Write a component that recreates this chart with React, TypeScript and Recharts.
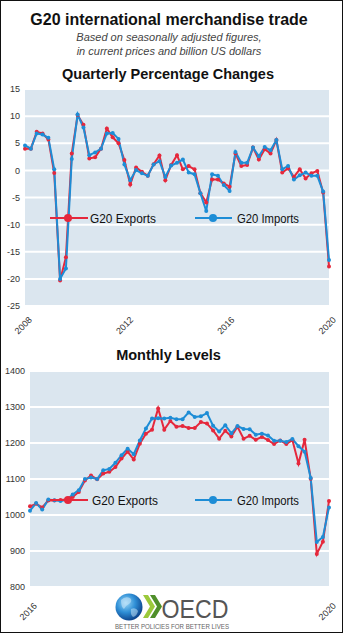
import React from 'react';
import { LineChart, Line, XAxis, YAxis, CartesianGrid, Legend } from 'recharts';

// ---------- Data ----------
const quarterCategories: string[] = (() => {
  const out: string[] = [];
  let y = 2007, q = 2;
  for (let k = 0; k < 53; k++) {
    out.push(`${y}Q${q}`);
    q++; if (q > 4) { q = 1; y++; }
  }
  return out;
})();

const quarterlyExports = [
  4.0, 4.0, 7.1, 6.8, 5.7, -0.5, -20.3, -16.0, 3.1, 10.2,
  8.4, 2.2, 2.4, 4.0, 7.7, 6.1, 5.0, 1.9, -2.6, 0.55,
  -0.25, -1.0, 1.15, 2.75, -1.8, 1.0, 2.8, 0.2, 0.8, 0.2,
  -4.2, -5.9, -1.7, -1.7, -2.4, -3.0, 3.1, 0.8, 1.0, 4.2,
  2.0, 3.9, 3.1, 5.6, -0.4, 0.35, -1.2, 0.2, -1.5, -0.55,
  -0.1, -4.1, -17.7,
];
const quarterlyImports = [
  4.6, 4.0, 6.8, 6.6, 6.0, 0.2, -20.0, -18.1, 2.1, 10.3,
  7.9, 2.8, 3.3, 4.0, 6.8, 6.9, 5.8, 1.1, -1.8, 0.05,
  -0.55, -1.0, 1.1, 1.7, -1.2, 0.9, 1.4, 2.0, -0.4, -0.7,
  -4.2, -7.5, -0.7, -1.0, -2.7, -3.8, 3.4, 1.4, 1.4, 4.2,
  2.6, 4.3, 3.7, 5.6, 0.2, 0.8, -1.7, -0.9, -0.4, -1.0,
  -1.0, -3.9, -16.5,
];
const quarterlyTickLabels = ['2008', '2012', '2016', '2020'];
const quarterlyYTicks = [-25, -20, -15, -10, -5, 0, 5, 10, 15];

const monthCategories: string[] = (() => {
  const out: string[] = [];
  let y = 2016, m = 5;
  for (let k = 0; k < 50; k++) {
    out.push(`${y}-${String(m).padStart(2, '0')}`);
    m++; if (m > 12) { m = 1; y++; }
  }
  return out;
})();

const monthlyExports = [
  1024, 1031, 1021, 1040, 1040, 1042, 1043, 1050, 1064, 1096,
  1110, 1099, 1115, 1120, 1133, 1157, 1176, 1154, 1198, 1226,
  1237, 1296, 1237, 1261, 1245, 1247, 1242, 1242, 1258, 1254,
  1235, 1212, 1234, 1218, 1245, 1212, 1220, 1209, 1217, 1208,
  1197, 1207, 1197, 1208, 1143, 1209, 1101, 892, 926, 1039,
];
const monthlyImports = [
  1012, 1033, 1015, 1043, 1041, 1039, 1042, 1057, 1069, 1100,
  1104, 1100, 1124, 1128, 1145, 1166, 1184, 1169, 1207, 1240,
  1268, 1269, 1268, 1270, 1266, 1266, 1285, 1272, 1274, 1283,
  1248, 1232, 1249, 1227, 1247, 1239, 1238, 1223, 1226, 1221,
  1206, 1206, 1203, 1211, 1191, 1176, 1103, 925, 939, 1021,
];
const monthlyTickLabels = ['2016', '2020'];
const monthlyYTicks = [800, 900, 1000, 1100, 1200, 1300, 1400];

// ---------- Styling ----------
const RED = '#e5283c';
const BLUE = '#1d8dd6';
const PLOT_BG = '#dbe6ef';
const FONT = "'Liberation Sans', Arial, Helvetica, sans-serif";

const quarterlyData = quarterCategories.map((c, i) => ({
  i, cat: c, exports: quarterlyExports[i], imports: quarterlyImports[i],
}));
const monthlyData = monthCategories.map((c, i) => ({
  i, cat: c, exports: monthlyExports[i], imports: monthlyImports[i],
}));

const evenTicks = (n: number, labels: string[]) =>
  labels.map((_, k) => (k * (n - 1)) / (labels.length - 1));

const makeAngledTick = (ticks: number[], labels: string[]) => (props: any) => {
  const { x, y, payload } = props;
  let idx = 0;
  let best = Infinity;
  ticks.forEach((t, k) => {
    const d = Math.abs(t - payload.value);
    if (d < best) { best = d; idx = k; }
  });
  const tx = x + 3;
  return (
    <text
      x={tx}
      y={y}
      dy="0.71em"
      textAnchor="end"
      transform={`rotate(-45 ${tx} ${y})`}
      fontSize={9}
      fill="#333"
      fontFamily={FONT}
    >
      {labels[idx]}
    </text>
  );
};

const LegendContent = ({ exportsTextX }: { exportsTextX: number }) => (
  <svg width={343} height={20} style={{ display: 'block', overflow: 'visible' }}>
    <line x1={50} y1={10} x2={88} y2={10} stroke={RED} strokeWidth={2} />
    <circle cx={68} cy={10} r={4} fill={RED} />
    <text x={exportsTextX} y={15} fontSize={13} fill="#111" fontFamily={FONT}
      textLength={66} lengthAdjust="spacingAndGlyphs">G20 Exports</text>
    <line x1={195} y1={10} x2={232} y2={10} stroke={BLUE} strokeWidth={2} />
    <circle cx={213} cy={10} r={4} fill={BLUE} />
    <text x={237} y={15} fontSize={13} fill="#111" fontFamily={FONT}
      textLength={62} lengthAdjust="spacingAndGlyphs">G20 Imports</text>
  </svg>
);

const yTickStyle = { fontSize: 9, fill: '#333', fontFamily: FONT };

export default function App() {
  const qTicks = evenTicks(quarterlyData.length, quarterlyTickLabels);
  const mTicks = evenTicks(monthlyData.length, monthlyTickLabels);

  return (
    <div style={{ position: 'absolute', left: 0, top: 0, width: 343, height: 633, background: '#fff', fontFamily: FONT }}>
      <svg width={343} height={633} style={{ position: 'absolute', left: 0, top: 0 }}>
        <defs>
          <radialGradient id="globeGrad" cx="0.38" cy="0.35" r="0.7">
            <stop offset="0" stopColor="#9ad6f6" />
            <stop offset="0.5" stopColor="#2f8fd6" />
            <stop offset="1" stopColor="#0a3d86" />
          </radialGradient>
        </defs>
        <text x={169} y={25} textAnchor="middle" fontSize={16} fontWeight="bold" fill="#111" fontFamily={FONT}>
          G20 international merchandise trade
        </text>
        <text x={169} y={40.5} textAnchor="middle" fontSize={11} fontStyle="italic" fill="#444" fontFamily={FONT}>
          Based on seasonally adjusted figures,
        </text>
        <text x={169} y={55} textAnchor="middle" fontSize={11} fontStyle="italic" fill="#444" fontFamily={FONT}>
          in current prices and billion US dollars
        </text>
        <text x={168} y={78.5} textAnchor="middle" fontSize={14.5} fontWeight="bold" fill="#111" fontFamily={FONT}>
          Quarterly Percentage Changes
        </text>
        <text x={168.5} y={359.5} textAnchor="middle" fontSize={14.5} fontWeight="bold" fill="#111" fontFamily={FONT}>
          Monthly Levels
        </text>

        {/* OECD logo */}
        <circle cx={129} cy={607} r={13.5} fill="url(#globeGrad)" />
        <path d="M121,600 q4,-4 9,-2 q3,3 -1,6 q-4,2 -5,5 q-3,-2 -3,-9 z" fill="#cfeafa" opacity={0.55} />
        <path d="M131,609 q5,-2 7,2 q-1,5 -5,6 q-3,-3 -2,-8 z" fill="#cfeafa" opacity={0.5} />
        <polygon points="143,595 148,595 155,606.5 148,618 143,618 150,606.5" fill="#9bc93b" />
        <polygon points="150,595 155,595 162,606.5 155,618 150,618 157,606.5" fill="#4f8f2a" />
        <text x={161.5} y={617.5} fontSize={26} fill="#555" fontFamily={FONT}
          textLength={67} lengthAdjust="spacingAndGlyphs">OECD</text>
        <text x={115} y={628.5} fontSize={6.3} fill="#666" fontFamily={FONT}
          textLength={114} lengthAdjust="spacingAndGlyphs">BETTER POLICIES FOR BETTER LIVES</text>
      </svg>

      {/* Quarterly chart */}
      <div style={{ position: 'absolute', left: 0, top: 80 }}>
        <LineChart width={343} height={266} data={quarterlyData}
          margin={{ top: 9, right: 14, left: 0, bottom: 0 }} style={{ overflow: 'visible' }}>
          <CartesianGrid vertical={false} stroke="#fff" strokeWidth={2} fill={PLOT_BG} fillOpacity={1} />
          <XAxis dataKey="i" type="number" domain={[0, quarterlyData.length - 1]} ticks={qTicks}
            interval={0} axisLine={false} tickLine={false} tickMargin={4} height={40}
            tick={makeAngledTick(qTicks, quarterlyTickLabels)} />
          <YAxis type="number" domain={[-25, 15]} ticks={quarterlyYTicks} interval={0}
            axisLine={false} tickLine={false} tickSize={3} tickMargin={2} width={25} tick={yTickStyle} />
          <Line type="linear" dataKey="exports" stroke={RED} strokeWidth={2}
            dot={{ r: 2, fill: RED, stroke: RED, strokeWidth: 0 }} activeDot={false} isAnimationActive={false} />
          <Line type="linear" dataKey="imports" stroke={BLUE} strokeWidth={2}
            dot={{ r: 2, fill: BLUE, stroke: BLUE, strokeWidth: 0 }} activeDot={false} isAnimationActive={false} />
          <Legend layout="horizontal" verticalAlign="middle" align="center"
            wrapperStyle={{ left: 0, top: 128, width: 343, height: 20 }}
            content={() => <LegendContent exportsTextX={90} />} />
        </LineChart>
      </div>

      {/* Monthly chart */}
      <div style={{ position: 'absolute', left: 0, top: 361 }}>
        <LineChart width={343} height={266} data={monthlyData}
          margin={{ top: 10, right: 14, left: 0, bottom: 0 }} style={{ overflow: 'visible' }}>
          <CartesianGrid vertical={false} stroke="#fff" strokeWidth={2} fill={PLOT_BG} fillOpacity={1} />
          <XAxis dataKey="i" type="number" domain={[0, monthlyData.length - 1]} ticks={mTicks}
            interval={0} axisLine={false} tickLine={false} tickMargin={9} height={40}
            tick={makeAngledTick(mTicks, monthlyTickLabels)} />
          <YAxis type="number" domain={[800, 1400]} ticks={monthlyYTicks} interval={0}
            axisLine={false} tickLine={false} tickSize={3} tickMargin={2} width={30} tick={yTickStyle} />
          <Line type="linear" dataKey="exports" stroke={RED} strokeWidth={2}
            dot={{ r: 2, fill: RED, stroke: RED, strokeWidth: 0 }} activeDot={false} isAnimationActive={false} />
          <Line type="linear" dataKey="imports" stroke={BLUE} strokeWidth={2}
            dot={{ r: 2, fill: BLUE, stroke: BLUE, strokeWidth: 0 }} activeDot={false} isAnimationActive={false} />
          <Legend layout="horizontal" verticalAlign="middle" align="center"
            wrapperStyle={{ left: 0, top: 129, width: 343, height: 20 }}
            content={() => <LegendContent exportsTextX={92} />} />
        </LineChart>
      </div>

      <div style={{ position: 'absolute', left: 0, top: 0, width: 343, height: 633, boxSizing: 'border-box', border: '1px solid #111', pointerEvents: 'none' }} />
    </div>
  );
}
